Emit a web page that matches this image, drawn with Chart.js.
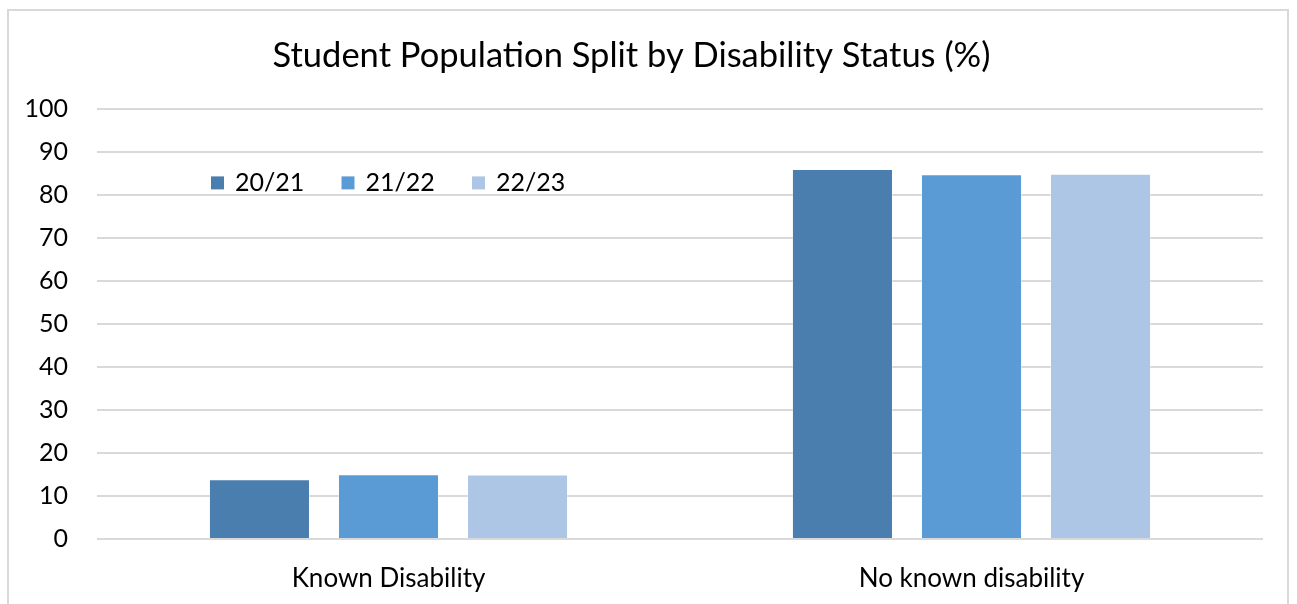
<!DOCTYPE html>
<html>
<head>
<meta charset="utf-8">
<title>Student Population Split by Disability Status</title>
<script src="https://cdn.jsdelivr.net/npm/chart.js@4/dist/chart.umd.min.js"></script>
<style>
    html, body { margin: 0; padding: 0; background: #fff; }
    #wrap { position: relative; width: 1297px; height: 604px; overflow: hidden; }
    #frame {
        position: absolute; left: 7px; top: 9px; width: 1282px; height: 620px;
        border: 2px solid #d9d9d9; box-sizing: border-box;
    }
    canvas { position: absolute; left: 0; top: 0; }
</style>
</head>
<body>
<div id="wrap">
    <div id="frame"></div>
    <canvas id="chart" width="1297" height="604"></canvas>
</div>
<script>
const FONT = 'Lato, "Liberation Sans", sans-serif';

const categories = ['Known Disability', 'No known disability'];
const years = ['20/21', '21/22', '22/23'];
const colours = ['#4a7eae', '#5b9bd5', '#adc6e5'];

// percentage of students per year
const values2021 = [13.9, 86.1];
const values2122 = [15.1, 84.9];
const values2223 = [15.0, 85.0];

const seriesValues = [values2021, values2122, values2223];

// legend drawn inside the plot area, top-left
const insideLegend = {
    id: 'insideLegend',
    afterDraw(chart) {
        const ctx = chart.ctx;
        const area = chart.chartArea;
        const x0 = area.left + 114;
        const y = area.top + 73;
        ctx.save();
        ctx.font = '25px ' + FONT;
        ctx.textBaseline = 'middle';
        ctx.textAlign = 'left';
        chart.data.datasets.forEach((ds, i) => {
            const x = x0 + i * 130.5;
            ctx.fillStyle = ds.backgroundColor;
            ctx.fillRect(x, y - 6, 13, 13);
            ctx.fillStyle = '#000';
            ctx.fillText(ds.label, x + 24, y + 1);
        });
        ctx.restore();
    }
};

const ctx = document.getElementById('chart').getContext('2d');
new Chart(ctx, {
    type: 'bar',
    data: {
        labels: categories,
        datasets: years.map((y, i) => ({
            label: y,
            data: seriesValues[i],
            backgroundColor: colours[i],
            borderColor: 'rgba(255,255,255,0.35)',
            borderWidth: 1,
            categoryPercentage: 0.664,
            barPercentage: 0.783
        }))
    },
    options: {
        responsive: false,
        animation: false,
        layout: { padding: { left: 0, right: 34, top: 0, bottom: 0 } },
        plugins: {
            legend: { display: false },
            tooltip: { enabled: false },
            title: {
                display: true,
                text: 'Student Population Split by Disability Status (%)',
                color: '#000',
                font: { family: FONT, size: 34.5, weight: 'normal' },
                padding: { top: 35, bottom: 33 }
            }
        },
        scales: {
            x: {
                grid: { display: false },
                border: { display: false },
                ticks: {
                    color: '#000',
                    font: { family: FONT, size: 26 },
                    padding: 16
                },
                afterFit(scale) { scale.height = 65; }
            },
            y: {
                min: 0,
                max: 100,
                grid: { color: '#d9d9d9', lineWidth: 2, drawTicks: false },
                border: { display: false },
                ticks: {
                    stepSize: 10,
                    color: '#000',
                    font: { family: FONT, size: 25 },
                    padding: 29
                },
                afterFit(scale) { scale.width = 97; }
            }
        }
    },
    plugins: [insideLegend]
});
</script>
</body>
</html>
